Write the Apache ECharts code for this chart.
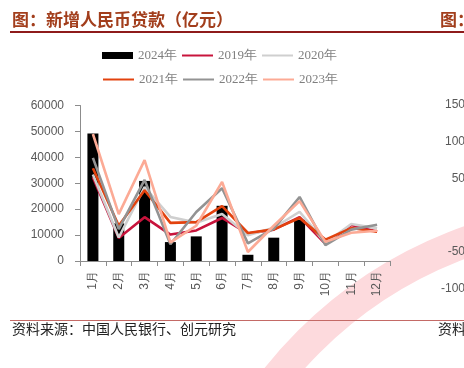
<!DOCTYPE html>
<html>
<head>
<meta charset="utf-8">
<style>
  html, body { margin: 0; padding: 0; background: #fff; }
  #chart { width: 464px; height: 368px; }
</style>
<script src="https://cdn.jsdelivr.net/npm/echarts@6/dist/echarts.min.js"></script>
</head>
<body>
<div id="chart"></div>
<script>
// 月份
const months = ['1月', '2月', '3月', '4月', '5月', '6月', '7月', '8月', '9月', '10月', '11月', '12月'];

// 新增人民币贷款（亿元）
const loans2024 = [49200, 14500, 30900, 7300, 9500, 21300, 2400, 9000, 15900];
const loans2019 = [32300, 8858, 16900, 10200, 11800, 16600, 10600, 12100, 16900, 6613, 13900, 11400];
const loans2020 = [33400, 9057, 28500, 17000, 14800, 18100, 9927, 12800, 19000, 6898, 14300, 12600];
const loans2021 = [35800, 13600, 27300, 14700, 15000, 21200, 10800, 12200, 16600, 8262, 12700, 11300];
const loans2022 = [39800, 12300, 31300, 6454, 18900, 28100, 6790, 12500, 24700, 6152, 12100, 14000];
const loans2023 = [49000, 18100, 38900, 7188, 13600, 30500, 3459, 13600, 23100, 7384, 10900, 11700];

const lineSeries = [
  { name: '2019年', data: loans2019, color: '#c8143c' },
  { name: '2020年', data: loans2020, color: '#cfcfcf' },
  { name: '2021年', data: loans2021, color: '#e2420e' },
  { name: '2022年', data: loans2022, color: '#939393' },
  { name: '2023年', data: loans2023, color: '#fcaa95' },
];

const chart = echarts.init(document.getElementById('chart'));

const axisGray = '#8c8c8c';
const labelGray = '#595959';
const titleColor = '#a23e1c';

// 图例里的折线只画线，不要中间的圆点
const hideDot = { color: 'rgba(0,0,0,0)', borderWidth: 0 };
const legendText = { color: '#7f7f7f', fontSize: 13, fontFamily: 'Liberation Serif' };

const option = {
  animation: false,
  textStyle: { fontFamily: 'Liberation Sans, Arial, sans-serif' },
  graphic: [
    // 背景水印
    {
      type: 'arc',
      z: -10,
      silent: true,
      shape: { cx: 610, cy: 643, r: 426, startAngle: Math.PI, endAngle: Math.PI * 1.6 },
      style: { stroke: '#fddadd', lineWidth: 31, fill: null },
    },
    {
      type: 'text',
      left: 12,
      top: 11,
      style: { text: '图：新增人民币贷款（亿元）', fill: titleColor, font: 'bold 17px "Noto Sans CJK SC"' },
    },
    {
      type: 'text',
      left: 440,
      top: 11,
      style: { text: '图：', fill: titleColor, font: 'bold 17px "Noto Sans CJK SC"' },
    },
    {
      type: 'line',
      shape: { x1: 10, y1: 32, x2: 464, y2: 32 },
      style: { stroke: '#8e1b1b', lineWidth: 2 },
    },
    {
      type: 'line',
      shape: { x1: 10, y1: 320.5, x2: 464, y2: 320.5 },
      style: { stroke: '#c46a66', lineWidth: 1 },
    },
    {
      type: 'text',
      left: 12,
      top: 322,
      style: { text: '资料来源：中国人民银行、创元研究', fill: '#222', font: '14px "Noto Sans CJK SC"' },
    },
    {
      type: 'text',
      left: 438,
      top: 322,
      style: { text: '资料', fill: '#222', font: '14px "Noto Sans CJK SC"' },
    },
  ],
  legend: [
    {
      left: 102,
      top: 49,
      padding: 0,
      itemWidth: 31,
      itemHeight: 7,
      itemGap: 4,
      textStyle: legendText,
      data: [
        { name: '2024年', icon: 'rect' },
        { name: '2019年', itemStyle: hideDot },
        { name: '2020年', itemStyle: hideDot },
      ],
    },
    {
      left: 102,
      top: 73,
      padding: 0,
      itemWidth: 31,
      itemHeight: 7,
      itemGap: 4,
      textStyle: legendText,
      data: [
        { name: '2021年', itemStyle: hideDot },
        { name: '2022年', itemStyle: hideDot },
        { name: '2023年', itemStyle: hideDot },
      ],
    },
  ],
  grid: [
    { left: 80, right: 74, top: 105.5, bottom: 107 },
    { left: 473, width: 20, top: 105, height: 183.3 },
  ],
  xAxis: [
    {
      type: 'category',
      data: months,
      axisLine: { lineStyle: { color: axisGray } },
      axisTick: { show: true, length: 5, lineStyle: { color: axisGray } },
      axisLabel: { rotate: 90, margin: 10, color: labelGray, fontSize: 12 },
    },
    { gridIndex: 1, type: 'value', show: false },
  ],
  yAxis: [
    {
      type: 'value',
      min: 0,
      max: 60000,
      interval: 10000,
      splitLine: { show: false },
      axisLine: { show: true, lineStyle: { color: axisGray } },
      axisTick: { show: true, length: 5, lineStyle: { color: axisGray } },
      axisLabel: { margin: 16, color: labelGray, fontSize: 12, formatter: (v) => String(v) },
    },
    {
      gridIndex: 1,
      type: 'value',
      min: -100,
      max: 150,
      interval: 50,
      splitLine: { show: false },
      axisLine: { show: false },
      axisTick: { show: false },
      axisLabel: {
        margin: 8,
        color: labelGray,
        fontSize: 12,
        formatter: (v) => (v === 0 ? '' : String(v)),
      },
    },
  ],
  series: [
    {
      name: '2024年',
      type: 'bar',
      data: loans2024,
      barWidth: 11,
      itemStyle: { color: '#000' },
    },
  ].concat(lineSeries.map((s) => ({
    name: s.name,
    type: 'line',
    data: s.data,
    symbol: 'none',
    color: s.color,
    lineStyle: { width: 2.6, color: s.color },
  }))),
};

chart.setOption(option);
</script>
</body>
</html>
